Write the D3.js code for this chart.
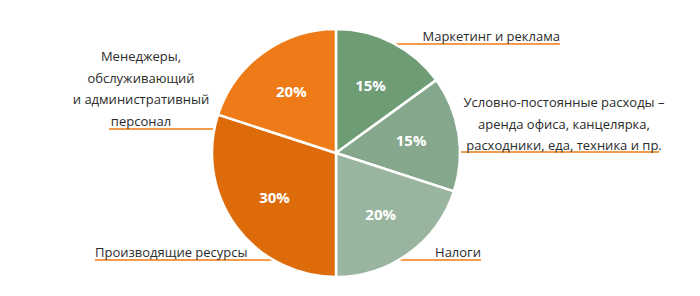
<!DOCTYPE html>
<html>
<head>
<meta charset="utf-8">
<script src="https://cdn.jsdelivr.net/npm/d3@7"></script>
<style>
  body { margin: 0; background: #fff; }
  svg { display: block; }
  .label { font-family: "Open Sans", sans-serif; font-size: 13px; fill: #2b2b2b; }
  .pct { font-family: "Open Sans", sans-serif; font-size: 15px; font-weight: bold; fill: #fff; }
</style>
</head>
<body>
<div id="root"></div>
<script>
// Data, clockwise from the top.
const categories = [
  'Маркетинг и реклама',
  'Условно-постоянные расходы – аренда офиса, канцелярка, расходники, еда, техника и пр.',
  'Налоги',
  'Производящие ресурсы',
  'Менеджеры, обслуживающий и административный персонал'
];
const values = [15, 15, 20, 30, 20];
const labelLines = [
  ['Маркетинг и реклама'],
  ['Условно-постоянные расходы –', 'аренда офиса, канцелярка,', 'расходники, еда, техника и пр.'],
  ['Налоги'],
  ['Производящие ресурсы'],
  ['Менеджеры,', 'обслуживающий', 'и административный', 'персонал']
];

const width = 700, height = 296;
const cx = 336, cy = 153, radius = 124;

// Colors for the slices.
const colors = ['#6f9f78', '#88ab8e', '#9db9a2', '#e26d0a', '#f37e17'];

// Where each text block sits (x of the text, first baseline, alignment, underline y).
const layout = [
  { x: 560, y: 41, anchor: 'end', lineY: 44 },
  { x: 564, y: 107, anchor: 'middle', lineY: 152, lineFrom: 460, lineTo: 659 },
  { x: 481, y: 257, anchor: 'end', lineY: 260 },
  { x: 95, y: 257, anchor: 'start', lineY: 260 },
  { x: 141, y: 61, anchor: 'middle', lineY: 129, lineFrom: 109 }
];

const svg = d3.select('#root')
  .append('svg')
  .attr('width', width)
  .attr('height', height);

const pie = d3.pie().sort(null).value(d => d);
const arcs = pie(values);
const arc = d3.arc().innerRadius(0).outerRadius(radius);
const labelArc = d3.arc().innerRadius(76).outerRadius(76);

// Soft lighting on the slices.
const defs = svg.append('defs');
colors.forEach((c, i) => {
  const g = defs.append('radialGradient')
    .attr('id', 'g' + i)
    .attr('gradientUnits', 'userSpaceOnUse')
    .attr('cx', cx + 30).attr('cy', cy - 20).attr('r', radius * 1.3);
  g.append('stop').attr('offset', '0%').attr('stop-color', d3.color(c).brighter(0.12));
  g.append('stop').attr('offset', '100%').attr('stop-color', d3.color(c).darker(0.06));
});

const pieG = svg.append('g').attr('transform', `translate(${cx},${cy})`);

pieG.selectAll('path')
  .data(arcs)
  .enter()
  .append('path')
  .attr('d', arc)
  .attr('fill', (d, i) => `url(#g${i})`)
  .attr('stroke', '#fff')
  .attr('stroke-width', 2.5)
  .attr('stroke-linejoin', 'round');

pieG.selectAll('.pct')
  .data(arcs)
  .enter()
  .append('text')
  .attr('class', 'pct')
  .attr('transform', d => `translate(${labelArc.centroid(d)})`)
  .attr('text-anchor', 'middle')
  .attr('dy', '0.35em')
  .text(d => d.data + '%');

// Point on the pie edge at a given y, on the side of the label.
function edgeX(y, side) {
  const dy = y - cy;
  const dx = Math.sqrt(Math.max(0, radius * radius - dy * dy));
  return side > 0 ? cx + dx : cx - dx;
}

labelLines.forEach((lines, i) => {
  const L = layout[i];
  const g = svg.append('g');
  const text = g.append('text')
    .attr('class', 'label')
    .attr('text-anchor', L.anchor);
  lines.forEach((t, j) => {
    text.append('tspan')
      .attr('x', L.x)
      .attr('y', L.y + j * 21.5)
      .text(t);
  });
  const box = text.node().getBBox();
  const side = L.x > cx ? 1 : -1;
  let x1, x2;
  if (side > 0) {
    x1 = edgeX(L.lineY, 1) - 1;
    x2 = L.lineTo || box.x + box.width;
  } else {
    x1 = L.lineFrom || box.x;
    x2 = edgeX(L.lineY, -1) + 1;
  }
  svg.insert('line', 'g')
    .attr('x1', x1).attr('x2', x2)
    .attr('y1', L.lineY).attr('y2', L.lineY)
    .attr('stroke', '#f07a12')
    .attr('stroke-width', 1.5);
});
</script>
</body>
</html>
